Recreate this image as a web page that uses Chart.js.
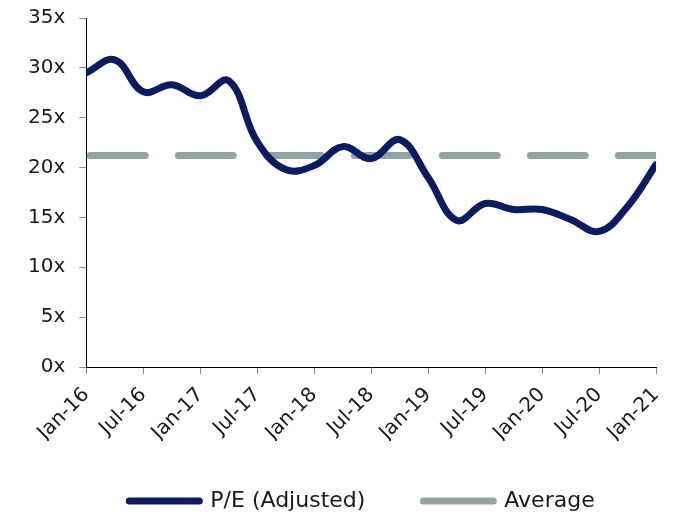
<!DOCTYPE html>
<html>
<head>
<meta charset="utf-8">
<script src="https://cdn.jsdelivr.net/npm/chart.js@4/dist/chart.umd.min.js"></script>
<style>
  html, body { margin: 0; padding: 0; background: #fff; }
  #wrap { width: 682px; height: 515px; position: relative; }
</style>
</head>
<body>
<div id="wrap"><canvas id="peChart"></canvas></div>
<script>
// months since Jan-16, quarterly
const months = [0, 3, 6, 9, 12, 15, 18, 21, 24, 27, 30, 33, 36, 39, 42, 45, 48, 51, 54, 57, 60];
const peValues = [29.5, 30.8, 27.6, 28.3, 27.2, 28.7, 22.6, 19.8, 20.2, 22.1, 20.9, 22.8,
                  19.0, 14.7, 16.4, 15.8, 15.8, 14.8, 13.6, 16.1, 20.3];
const averageValue = 21.2;
const tickLabels = ["Jan-16", "Jul-16", "Jan-17", "Jul-17", "Jan-18", "Jul-18",
                    "Jan-19", "Jul-19", "Jan-20", "Jul-20", "Jan-21"];

const navy = "#0b1d60";
const grey = "#90a4a6";
const textColor = "#1a1a1a";
const fontFamily = "'DejaVu Sans', sans-serif";

// move the legend row right of centre and pull it up a bit
const legendNudge = {
  id: "legendNudge",
  afterLayout(chart) {
    chart.legend.left += 26;
    chart.legend.right += 26;
    chart.legend.top -= 9;
  },
};

new Chart(document.getElementById("peChart").getContext("2d"), {
  type: "line",
  data: {
    datasets: [
      {
        label: "P/E (Adjusted)",
        data: months.map((m, i) => ({ x: m, y: peValues[i] })),
        borderColor: navy,
        backgroundColor: navy,
        borderWidth: 7,
        borderCapStyle: "round",
        borderJoinStyle: "round",
        tension: 0.4,
        pointRadius: 0,
        fill: false,
      },
      {
        label: "Average",
        data: [
          { x: months[0], y: averageValue },
          { x: months[months.length - 1], y: averageValue },
        ],
        borderColor: grey,
        backgroundColor: grey,
        borderWidth: 7,
        borderCapStyle: "round",
        borderDash: [55, 33],
        borderDashOffset: -4,
        pointRadius: 0,
        fill: false,
      },
    ],
  },
  options: {
    responsive: true,
    maintainAspectRatio: false,
    animation: false,
    layout: { padding: { left: 14, right: 24, top: 0, bottom: 0 } },
    scales: {
      x: {
        type: "linear",
        min: 0,
        max: 60,
        afterFit: (axis) => { axis.height = 74; },
        ticks: {
          stepSize: 6,
          maxRotation: 45,
          minRotation: 45,
          autoSkip: false,
          color: textColor,
          font: { family: fontFamily, size: 20 },
          padding: 9,
          callback: (v) => tickLabels[v / 6],
        },
        grid: {
          drawOnChartArea: false,
          drawTicks: true,
          tickLength: 7,
          color: "#888",
        },
        border: { display: true, color: "#000", width: 1 },
      },
      y: {
        min: 0,
        max: 35,
        afterFit: (axis) => { axis.paddingTop = 18; },
        ticks: {
          stepSize: 5,
          color: textColor,
          font: { family: fontFamily, size: 20 },
          padding: 14,
          callback: (v) => v + "x",
        },
        grid: {
          drawOnChartArea: false,
          drawTicks: true,
          tickLength: 7,
          color: "#888",
        },
        border: { display: true, color: "#000", width: 1 },
      },
    },
    plugins: {
      tooltip: { enabled: false },
      legend: {
        position: "bottom",
        maxHeight: 74,
        labels: {
          usePointStyle: true,
          pointStyleWidth: 70,
          padding: 58,
          color: textColor,
          font: { family: fontFamily, size: 22 },
          generateLabels: (chart) =>
            Chart.defaults.plugins.legend.labels.generateLabels(chart).map((item) => ({
              ...item,
              pointStyle: "line",
              lineDash: [],
              lineCap: "round",
            })),
        },
      },
    },
  },
  plugins: [legendNudge],
});
</script>
</body>
</html>
